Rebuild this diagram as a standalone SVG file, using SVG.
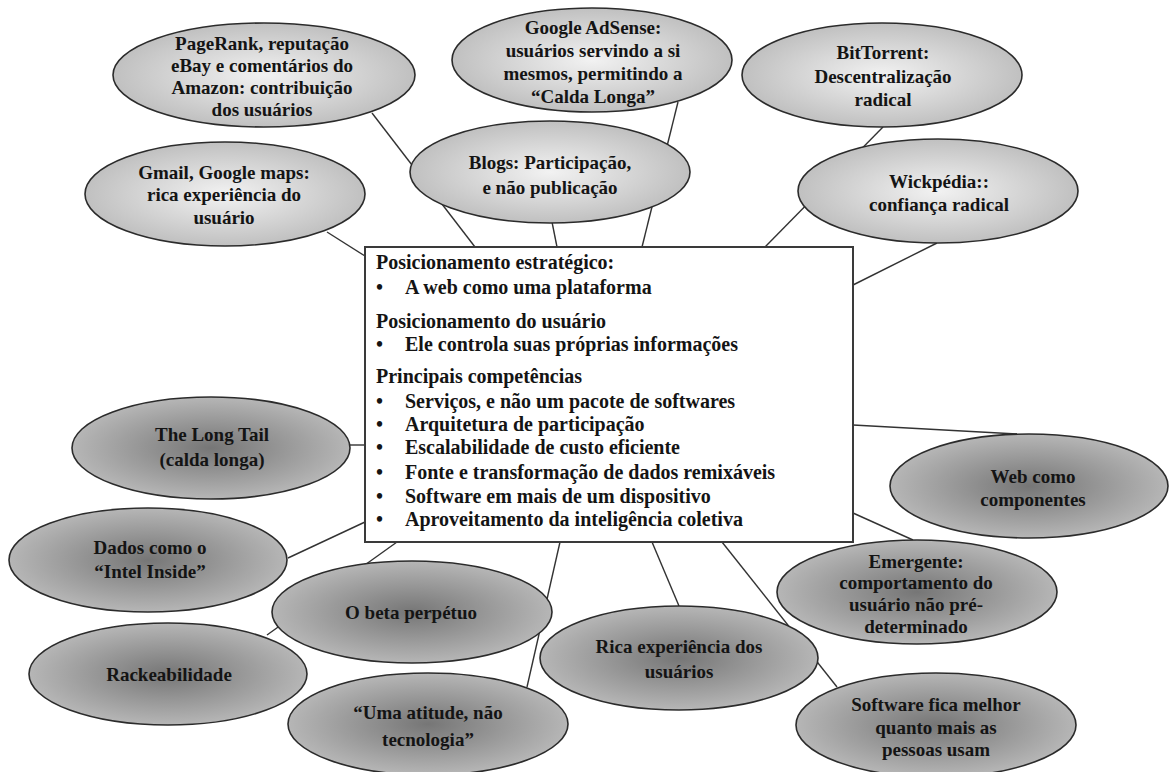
<svg xmlns="http://www.w3.org/2000/svg" width="1170" height="772" viewBox="0 0 1170 772">
  <defs>
    <radialGradient id="gLight" cx="50%" cy="50%" r="50%">
      <stop offset="0%" stop-color="#f2f2f2"/>
      <stop offset="100%" stop-color="#c0c0c0"/>
    </radialGradient>
    <radialGradient id="gDark" cx="50%" cy="50%" r="50%">
      <stop offset="0%" stop-color="#767676"/>
      <stop offset="100%" stop-color="#b6b6b6"/>
    </radialGradient>
    <style>
      .light { fill: url(#gLight); stroke: #2b2b2b; stroke-width: 1.6; }
      .dark { fill: url(#gDark); stroke: #2b2b2b; stroke-width: 1.6; }
      .lbl { font-family: "Liberation Serif", "Times New Roman", serif; font-weight: bold; font-size: 19px; fill: #141414; text-anchor: middle; }
      .box { fill: #ffffff; stroke: #3a3a3a; stroke-width: 2; }
      .bt { font-family: "Liberation Serif", "Times New Roman", serif; font-weight: bold; font-size: 20px; fill: #141414; }
      .conn line { stroke: #333333; stroke-width: 1.4; }
    </style>
  </defs>

  <rect width="1170" height="772" fill="#ffffff"/>

  <!-- connectors -->
  <g id="connectors" class="conn">
    <line x1="372" y1="113" x2="475" y2="247"/>
    <line x1="327" y1="232" x2="365" y2="256"/>
    <line x1="552" y1="222" x2="557" y2="247"/>
    <line x1="678" y1="102" x2="642" y2="247"/>
    <line x1="883" y1="127" x2="765" y2="247"/>
    <line x1="937" y1="243" x2="853" y2="285"/>
    <line x1="350" y1="445" x2="365" y2="445"/>
    <line x1="288" y1="558" x2="365" y2="522"/>
    <line x1="267" y1="635" x2="397" y2="542"/>
    <line x1="527" y1="687" x2="560" y2="542"/>
    <line x1="679" y1="606" x2="652" y2="542"/>
    <line x1="722" y1="542" x2="837" y2="687"/>
    <line x1="853" y1="513" x2="913" y2="540"/>
    <line x1="853" y1="425" x2="1017" y2="434"/>
  </g>

  <!-- central box -->
  <g id="center">
    <rect class="box" x="365" y="247" width="488" height="295"/>
    <text class="bt" x="376" y="269">Posicionamento estratégico:</text>
    <text class="bt" x="376" y="294">•</text><text class="bt" x="405" y="294">A web como uma plataforma</text>
    <text class="bt" x="376" y="328">Posicionamento do usuário</text>
    <text class="bt" x="376" y="351">•</text><text class="bt" x="405" y="351">Ele controla suas próprias informações</text>
    <text class="bt" x="376" y="383">Principais competências</text>
    <text class="bt" x="376" y="408">•</text><text class="bt" x="405" y="408">Serviços, e não um pacote de softwares</text>
    <text class="bt" x="376" y="431">•</text><text class="bt" x="405" y="431">Arquitetura de participação</text>
    <text class="bt" x="376" y="454">•</text><text class="bt" x="405" y="454">Escalabilidade de custo eficiente</text>
    <text class="bt" x="376" y="479">•</text><text class="bt" x="405" y="479">Fonte  e transformação de dados remixáveis</text>
    <text class="bt" x="376" y="503">•</text><text class="bt" x="405" y="503">Software em mais de um dispositivo</text>
    <text class="bt" x="376" y="526">•</text><text class="bt" x="405" y="526">Aproveitamento da inteligência coletiva</text>
  </g>

  <!-- upper nodes -->
  <g id="pagerank">
    <ellipse class="light" cx="264" cy="75" rx="151" ry="52"/>
    <text class="lbl" x="262" y="50">PageRank, reputação</text>
    <text class="lbl" x="262" y="72">eBay e  comentários do</text>
    <text class="lbl" x="262" y="94">Amazon: contribuição</text>
    <text class="lbl" x="262" y="116">dos usuários</text>
  </g>
  <g id="gmail">
    <ellipse class="light" cx="225" cy="194" rx="140" ry="52"/>
    <text class="lbl" x="224" y="179">Gmail, Google maps:</text>
    <text class="lbl" x="224" y="201">rica experiência do</text>
    <text class="lbl" x="224" y="224">usuário</text>
  </g>
  <g id="adsense">
    <ellipse class="light" cx="592" cy="60" rx="140" ry="52"/>
    <text class="lbl" x="593" y="34">Google AdSense:</text>
    <text class="lbl" x="593" y="57">usuários servindo a si</text>
    <text class="lbl" x="593" y="80">mesmos, permitindo a</text>
    <text class="lbl" x="593" y="103">“Calda Longa”</text>
  </g>
  <g id="blogs">
    <ellipse class="light" cx="550" cy="172" rx="140" ry="51"/>
    <text class="lbl" x="550" y="169">Blogs: Participação,</text>
    <text class="lbl" x="550" y="194">e não publicação</text>
  </g>
  <g id="bittorrent">
    <ellipse class="light" cx="882" cy="75" rx="140" ry="52"/>
    <text class="lbl" x="883" y="59">BitTorrent:</text>
    <text class="lbl" x="883" y="83">Descentralização</text>
    <text class="lbl" x="883" y="106">radical</text>
  </g>
  <g id="wikipedia">
    <ellipse class="light" cx="938" cy="191" rx="140" ry="52"/>
    <text class="lbl" x="939" y="188">Wickpédia::</text>
    <text class="lbl" x="939" y="211">confiança  radical</text>
  </g>

  <!-- lower nodes -->
  <g id="longtail">
    <ellipse class="dark" cx="211" cy="448" rx="139" ry="51"/>
    <text class="lbl" x="212" y="441">The Long Tail</text>
    <text class="lbl" x="212" y="466">(calda longa)</text>
  </g>
  <g id="dados">
    <ellipse class="dark" cx="148" cy="560" rx="139" ry="52"/>
    <text class="lbl" x="150" y="554">Dados como o</text>
    <text class="lbl" x="150" y="578">“Intel Inside”</text>
  </g>
  <g id="rackeabilidade">
    <ellipse class="dark" cx="168" cy="674" rx="139" ry="51"/>
    <text class="lbl" x="169" y="681">Rackeabilidade</text>
  </g>
  <g id="beta">
    <ellipse class="dark" cx="412" cy="612" rx="140" ry="51"/>
    <text class="lbl" x="411" y="619">O beta perpétuo</text>
  </g>
  <g id="atitude">
    <ellipse class="dark" cx="428" cy="724" rx="140" ry="51"/>
    <text class="lbl" x="428" y="719">“Uma atitude, não</text>
    <text class="lbl" x="428" y="746">tecnologia”</text>
  </g>
  <g id="rica">
    <ellipse class="dark" cx="679" cy="658" rx="139" ry="52"/>
    <text class="lbl" x="679" y="653">Rica experiência  dos</text>
    <text class="lbl" x="679" y="678">usuários</text>
  </g>
  <g id="componentes">
    <ellipse class="dark" cx="1029" cy="486" rx="139" ry="52"/>
    <text class="lbl" x="1033" y="483">Web como</text>
    <text class="lbl" x="1033" y="506">componentes</text>
  </g>
  <g id="emergente">
    <ellipse class="dark" cx="917" cy="592" rx="140" ry="52"/>
    <text class="lbl" x="916" y="568">Emergente:</text>
    <text class="lbl" x="916" y="589">comportamento do</text>
    <text class="lbl" x="916" y="611">usuário não pré-</text>
    <text class="lbl" x="916" y="633">determinado</text>
  </g>
  <g id="software">
    <ellipse class="dark" cx="936" cy="725" rx="140" ry="52"/>
    <text class="lbl" x="936" y="711">Software  fica melhor</text>
    <text class="lbl" x="936" y="734">quanto mais as</text>
    <text class="lbl" x="936" y="756">pessoas usam</text>
  </g>
</svg>
